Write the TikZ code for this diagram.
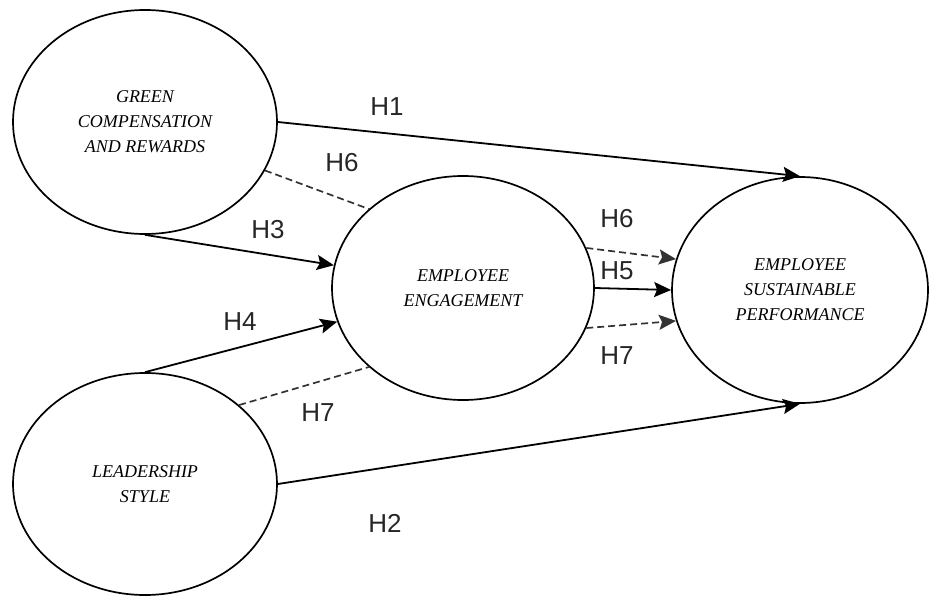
\documentclass[tikz,border=0pt]{standalone}
\usepackage{fontspec}
\setmainfont{Liberation Serif}
\newfontfamily\labelfont{Liberation Sans}
\usepackage{tikz}
\usetikzlibrary{shapes.geometric, arrows.meta, positioning, calc}

\begin{document}
\begin{tikzpicture}[x=1pt, y=-1pt,
    construct/.style={
        ellipse, draw=black, line width=1.7pt, inner sep=0pt,
        align=center, font=\fontsize{18}{25}\selectfont\itshape
    },
    hyp/.style={font=\labelfont\fontsize{26}{26}\selectfont, text=black!85},
    arrow/.style={-{Stealth[length=17pt, width=15pt, inset=3pt]}, line width=1.8pt, black},
    mediate/.style={line width=1.7pt, black!80, dash pattern=on 7pt off 4pt}
]
    \useasboundingbox (0,0) rectangle (929,597);

    % constructs
    \node[construct, minimum width=264pt, minimum height=224pt] (GCR) at (145,122) {GREEN\\COMPENSATION\\AND REWARDS};
    \node[construct, minimum width=264pt, minimum height=222pt] (LS)  at (145,484) {LEADERSHIP\\STYLE};
    \node[construct, minimum width=262pt, minimum height=224pt] (EE)  at (463,288) {EMPLOYEE\\ENGAGEMENT};
    \node[construct, minimum width=256pt, minimum height=226pt] (ESP) at (800,290) {EMPLOYEE\\SUSTAINABLE\\PERFORMANCE};

    % hypothesis labels
    \node[hyp] (H1)  at (387,107) {H1};
    \node[hyp] (H2)  at (385,523) {H2};
    \node[hyp] (H3)  at (268,230) {H3};
    \node[hyp] (H4)  at (240,322) {H4};
    \node[hyp] (H5)  at (617,271) {H5};
    \node[hyp] (H6a) at (342,163) {H6};
    \node[hyp] (H6b) at (617,219) {H6};
    \node[hyp] (H7a) at (318,413) {H7};
    \node[hyp] (H7b) at (617,356) {H7};

    % direct paths
    \draw[arrow] (GCR.east) -- (ESP.north);
    \draw[arrow] (LS.east) -- (ESP.south);
    \draw[arrow] (GCR.south) -- (EE.170);
    \draw[arrow] (LS.north) -- (EE.195);
    \draw[arrow] (EE.east) -- (ESP.west);

    % mediated paths
    \draw[mediate] (GCR.-22) -- (EE.140);
    \draw[mediate] (LS.40) -- (EE.220);
    \foreach \a/\b in {18/166, -18/194} {
        \draw[mediate, -{Stealth[length=17pt, width=15pt, inset=3pt]}] (EE.\a) -- (ESP.\b);
    }
\end{tikzpicture}
\end{document}
